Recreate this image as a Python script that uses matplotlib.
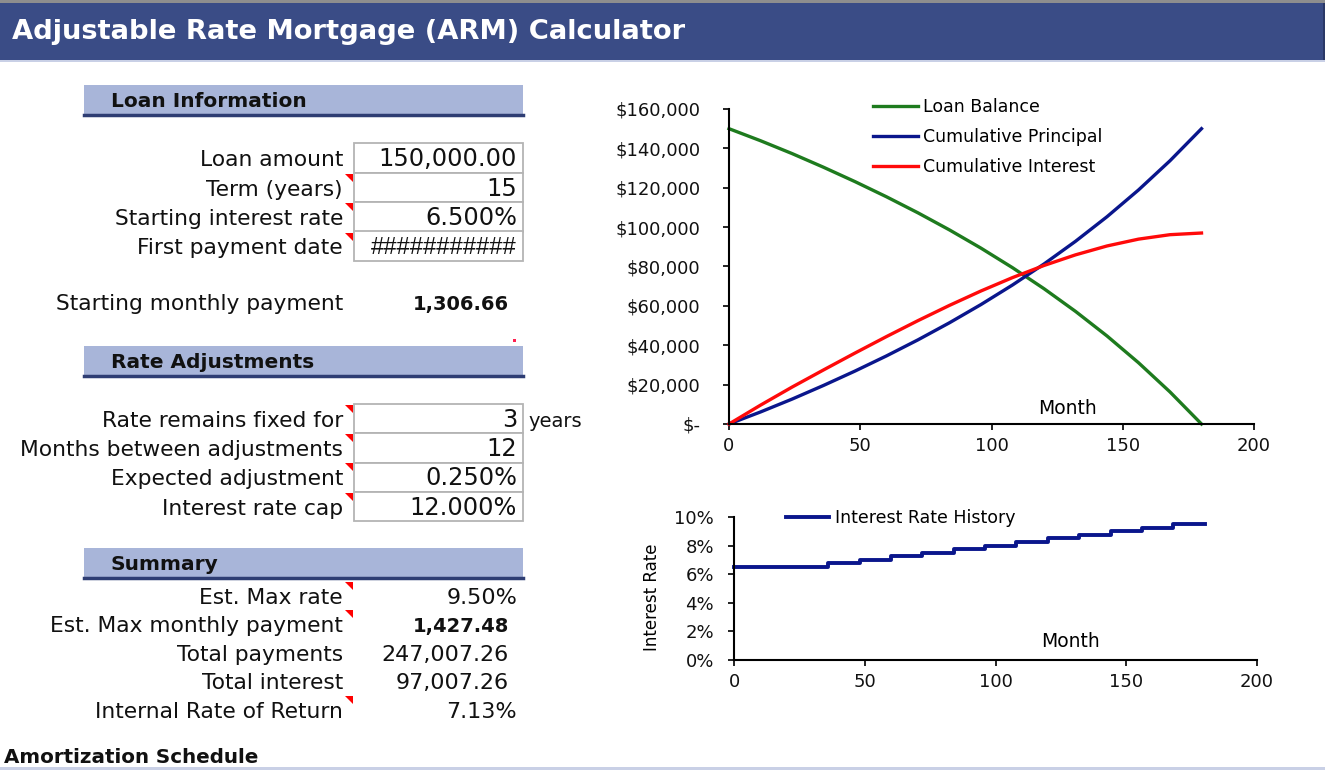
import matplotlib.pyplot as plt
import matplotlib.lines as mlines
from matplotlib.patches import Rectangle, Polygon
from matplotlib.ticker import FuncFormatter, MultipleLocator

plt.rcParams['font.family'] = ['DejaVu Sans']

W, H = 1325, 770

# chart data (yearly points)
months = [0, 12, 24, 36, 48, 60, 72, 84, 96, 108, 120, 132, 144, 156, 168, 180]
loan_balance = [150000, 143890, 137371, 130417, 123110, 115405, 107246, 98573,
                89317, 79398, 68729, 57207, 44718, 31127, 16280, 0]
cum_principal = [0, 6110, 12629, 19583, 26890, 34595, 42754, 51427,
                 60683, 70602, 81271, 92793, 105282, 118873, 133720, 150000]
cum_interest = [0, 9570, 18731, 27457, 36037, 44411, 52511, 60261,
                67577, 74363, 80516, 85915, 90428, 93901, 96161, 97007]

rate_months = [0, 36, 48, 60, 72, 84, 96, 108, 120, 132, 144, 156, 168, 180]
rate_pct = [6.5, 6.75, 7.0, 7.25, 7.5, 7.75, 8.0, 8.25, 8.5, 8.75, 9.0, 9.25, 9.5, 9.5]

# sheet text
loan_labels = ['Loan amount', 'Term (years)', 'Starting interest rate', 'First payment date']
loan_values = ['150,000.00', '15', '6.500%', '###########']
adj_labels = ['Rate remains fixed for', 'Months between adjustments',
              'Expected adjustment', 'Interest rate cap']
adj_values = ['3', '12', '0.250%', '12.000%']
summary_labels = ['Est. Max rate', 'Est. Max monthly payment', 'Total payments',
                  'Total interest', 'Internal Rate of Return']
summary_values = ['9.50%', '1,427.48', '247,007.26', '97,007.26', '7.13%']
summary_bold = [False, True, False, False, False]

fig = plt.figure(figsize=(W / 100, H / 100), dpi=100)


def fx(x):
    return x / W


def fy(y):
    return 1 - y / H


def rect(x0, y0, x1, y1, **kw):
    fig.add_artist(Rectangle((fx(x0), fy(y1)), (x1 - x0) / W, (y1 - y0) / H,
                             transform=fig.transFigure, **kw))


def hline(x0, x1, y, color, lw):
    fig.add_artist(mlines.Line2D([fx(x0), fx(x1)], [fy(y), fy(y)],
                                 transform=fig.transFigure, color=color, lw=lw))


def txt(x, y, s, size, ha='left', weight='normal', color='#111111', **kw):
    fig.text(fx(x), fy(y), s, fontsize=size, ha=ha, va='baseline',
             fontweight=weight, color=color, **kw)


def comment_mark(y):
    fig.add_artist(Polygon([(fx(345), fy(y)), (fx(353), fy(y)), (fx(353), fy(y + 8))],
                           closed=True, transform=fig.transFigure, fc='#FF0000', ec='none'))


# title bar
rect(0, 0, W, 3, fc='#8E8E8E', ec='none')
rect(0, 3, W, 60, fc='#3A4C86', ec='none')
rect(W - 2, 3, W, 60, fc='#2A3866', ec='none')
rect(0, 60, W, 62, fc='#C9D0E6', ec='none')
txt(12, 39, 'Adjustable Rate Mortgage (ARM) Calculator', 19.7, weight='bold', color='white')


def section(y0, title):
    rect(84, y0, 523, y0 + 29, fc='#A8B5D9', ec='none')
    hline(84, 523, y0 + 30, '#2E3D73', 2.5)
    txt(111, y0 + 22, title, 14.5, weight='bold')


# loan information
section(85, 'Loan Information')
row_h = 29.5
for i, (lab, val) in enumerate(zip(loan_labels, loan_values)):
    top = 143 + i * row_h
    rect(354, top, 523, top + row_h, fc='white', ec='#B4B4B4', lw=1.3)
    txt(343, top + 23, lab, 15.7, ha='right')
    if val.startswith('#'):
        txt(517, top + 23, val, 17, ha='right', family='Liberation Sans')
    else:
        txt(517, top + 23, val, 17.3, ha='right')
    if i > 0:
        comment_mark(top + 1)

txt(343, 310, 'Starting monthly payment', 15.7, ha='right')
txt(509, 310, '1,306.66', 14, ha='right', weight='bold')
fig.add_artist(Rectangle((fx(513), fy(342)), 3 / W, 3 / H, transform=fig.transFigure,
                         fc='#FF2050', ec='none'))

# rate adjustments
section(346, 'Rate Adjustments')
row_h = 29.25
for i, (lab, val) in enumerate(zip(adj_labels, adj_values)):
    top = 404 + i * row_h
    rect(354, top, 523, top + row_h, fc='white', ec='#B4B4B4', lw=1.3)
    txt(343, top + 23, lab, 15.7, ha='right')
    txt(517, top + 23, val, 17.3, ha='right')
    comment_mark(top + 1)
txt(528, 427, 'years', 14)

# summary
section(548, 'Summary')
for i, (lab, val, b) in enumerate(zip(summary_labels, summary_values, summary_bold)):
    base = 604 + i * 28.4
    txt(343, base, lab, 15.7, ha='right')
    right = 517 if val.endswith('%') else 509
    txt(right, base, val, 14 if b else 16, ha='right', weight='bold' if b else 'normal')
    if i in (0, 1, 4):
        comment_mark(base - 22)

txt(4, 763, 'Amortization Schedule', 14.3, weight='bold')
rect(0, 767, W, 770, fc='#C9D0E6', ec='none')

# top chart
ax1 = fig.add_axes([fx(729), fy(424), 525 / W, 315 / H])
ax1.plot(months, loan_balance, color='#1E7B1E', lw=2.4, label='Loan Balance', clip_on=False)
ax1.plot(months, cum_principal, color='#0A168C', lw=2.4, label='Cumulative Principal', clip_on=False)
ax1.plot(months, cum_interest, color='#FF0A0A', lw=2.4, label='Cumulative Interest', clip_on=False)
ax1.set_xlim(0, 200)
ax1.set_ylim(0, 160000)
ax1.xaxis.set_major_locator(MultipleLocator(50))
ax1.yaxis.set_major_locator(MultipleLocator(20000))
ax1.yaxis.set_major_formatter(FuncFormatter(lambda v, p: '$-' if v == 0 else f'${v:,.0f}'))
ax1.text(0.644, 0.05, 'Month', transform=ax1.transAxes, ha='center', va='center', fontsize=13.5)
ax1.legend(loc='upper left', bbox_to_anchor=(fx(873), fy(98)), bbox_transform=fig.transFigure,
           frameon=False, fontsize=12.5, borderpad=0, borderaxespad=0, handlelength=2.6,
           handletextpad=0.3, labelspacing=0.68)

# bottom chart
ax2 = fig.add_axes([fx(734), fy(660), 523 / W, 143 / H])
ax2.plot(rate_months, rate_pct, drawstyle='steps-post', color='#0A168C', lw=2.8,
         label='Interest Rate History', clip_on=False)
ax2.set_xlim(0, 200)
ax2.set_ylim(0, 10)
ax2.xaxis.set_major_locator(MultipleLocator(50))
ax2.yaxis.set_major_locator(MultipleLocator(2))
ax2.yaxis.set_major_formatter(FuncFormatter(lambda v, p: f'{v:.0f}%'))
ax2.text(0.644, 0.13, 'Month', transform=ax2.transAxes, ha='center', va='center', fontsize=13.5)
fig.text(fx(652), fy(597), 'Interest Rate', rotation=90, ha='center', va='center', fontsize=12)
ax2.legend(loc='upper left', bbox_to_anchor=(fx(786), fy(509)), bbox_transform=fig.transFigure,
           frameon=False, fontsize=12.5, borderpad=0, borderaxespad=0, handlelength=2.5,
           handletextpad=0.3)

for ax, ypad in ((ax1, 16), (ax2, 10)):
    ax.patch.set_visible(False)
    for s in ('top', 'right'):
        ax.spines[s].set_visible(False)
    for s in ('left', 'bottom'):
        ax.spines[s].set_linewidth(1.5)
    ax.tick_params(direction='out', length=4.5, width=1.3, labelsize=13, colors='#111111')
    ax.tick_params(axis='y', pad=ypad)
    ax.tick_params(axis='x', pad=5)

fig.savefig('out.png', dpi=100)
